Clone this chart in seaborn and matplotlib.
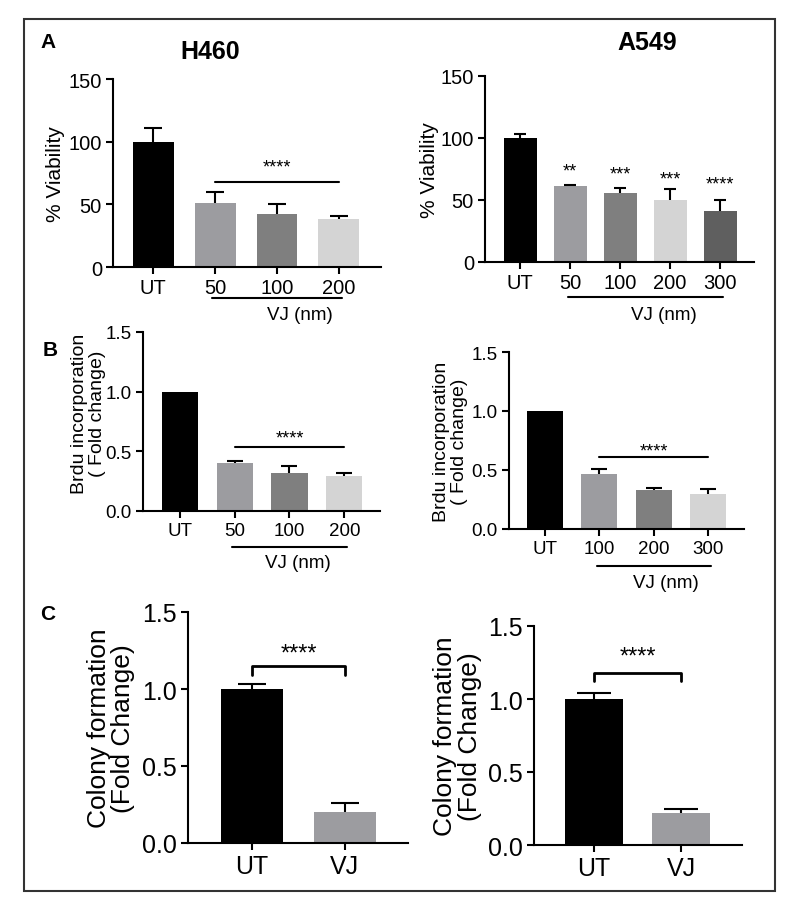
import seaborn as sns
import matplotlib.pyplot as plt
from matplotlib.patches import Rectangle

# Panel A - viability
h460_via_labels = ["UT", "50", "100", "200"]
h460_via_mean = [100, 51, 42, 38]
h460_via_err = [11, 9, 8, 3]

a549_via_labels = ["UT", "50", "100", "200", "300"]
a549_via_mean = [100, 61, 56, 50, 41]
a549_via_err = [3, 1.5, 4, 9, 9]
a549_via_stars = ["", "**", "***", "***", "****"]
a549_via_star_y = [0, 73, 71, 67, 63]

# Panel B - Brdu incorporation
h460_brdu_labels = ["UT", "50", "100", "200"]
h460_brdu_mean = [1.0, 0.40, 0.32, 0.29]
h460_brdu_err = [0, 0.02, 0.06, 0.03]

a549_brdu_labels = ["UT", "100", "200", "300"]
a549_brdu_mean = [1.0, 0.47, 0.33, 0.30]
a549_brdu_err = [0, 0.04, 0.015, 0.04]

# Panel C - colony formation
h460_col_labels = ["UT", "VJ"]
h460_col_mean = [1.0, 0.20]
h460_col_err = [0.03, 0.06]

a549_col_labels = ["UT", "VJ"]
a549_col_mean = [1.0, 0.22]
a549_col_err = [0.04, 0.025]

grey = {"UT": "#000000", "50": "#9c9ca0", "100": "#7f7f7f",
        "200": "#d4d4d4", "300": "#5f5f5f", "VJ": "#9c9ca0"}
brdu_right = {"UT": "#000000", "100": "#9c9ca0", "200": "#7f7f7f", "300": "#d4d4d4"}

sns.set_theme(style="ticks")
plt.rcParams['font.family'] = ['Liberation Sans', 'DejaVu Sans']
plt.rcParams['text.color'] = 'black'
plt.rcParams['axes.labelcolor'] = 'black'

W, H = 788, 912
fig = plt.figure(figsize=(W / 100, H / 100), dpi=100)


def px_axes(x0, y0, x1, y1):
    return fig.add_axes([x0 / W, 1 - y1 / H, (x1 - x0) / W, (y1 - y0) / H])


def bars(ax, labels, mean, err, pal, cap, fs, ylim, yticks, fmt, xlim):
    sns.barplot(x=labels, y=mean, hue=labels, palette=pal, legend=False,
                ax=ax, width=0.66, errorbar=None, linewidth=0, saturation=1)
    idx = [i for i, e in enumerate(err) if e > 0]
    _, caps, _ = ax.errorbar(idx, [mean[i] for i in idx],
                             yerr=[[0] * len(idx), [err[i] for i in idx]], fmt='none',
                             ecolor='black', elinewidth=1.5, capsize=cap, capthick=1.5)
    caps[0].set_visible(False)
    ax.set_ylim(*ylim)
    ax.set_xlim(*xlim)
    ax.set_yticks(yticks)
    ax.set_yticklabels([fmt.format(v) for v in yticks])
    sns.despine(ax=ax)
    for s in ["left", "bottom"]:
        ax.spines[s].set_linewidth(1.5)
        ax.spines[s].set_color("black")
    ax.tick_params(width=1.5, length=5, labelsize=fs, colors="black", pad=3)


def ylab(ax, text, x, fs, y=0.5):
    ax.set_ylabel(text, fontsize=fs, linespacing=1.05)
    ax.yaxis.set_label_coords(x, y)
    ax.yaxis.label.set_va("center")


def underline(ax, x0, x1, y, tx, ty, fs=13.5):
    tr = ax.get_xaxis_transform()
    ax.plot([x0 - 0.05, x1 + 0.05], [y, y], transform=tr, clip_on=False, color="black", lw=1.5)
    ax.text(tx, ty, "VJ (nm)", transform=tr, ha="center", va="center", fontsize=fs)


def sigline(ax, x0, x1, y, sy, fs=13):
    ax.plot([x0, x1], [y, y], color="black", lw=1.5)
    ax.text((x0 + x1) / 2, sy, "****", ha="center", va="center", fontsize=fs)


def bracket(ax, x0, x1, y, tip, sy, fs=17):
    ax.plot([x0, x0, x1, x1], [tip, y, y, tip], color="black", lw=2)
    ax.text((x0 + x1) / 2, sy, "****", ha="center", va="center", fontsize=fs)


# A left
ax = px_axes(113, 80, 381, 268)
bars(ax, h460_via_labels, h460_via_mean, h460_via_err, grey, 6.8, 14.5,
     (0, 150), [0, 50, 100, 150], "{:g}", (-0.65, 3.68))
ylab(ax, "% Viability", -0.215, 15)
sigline(ax, 1, 3, 68, 80)
underline(ax, 1, 3, -0.165, 2.37, -0.25)

# A right
ax = px_axes(485, 77, 754, 263)
bars(ax, a549_via_labels, a549_via_mean, a549_via_err, grey, 4.3, 14.5,
     (0, 150), [0, 50, 100, 150], "{:g}", (-0.7, 4.68))
ylab(ax, "% Viability", -0.205, 15)
for i, (s, y) in enumerate(zip(a549_via_stars, a549_via_star_y)):
    if s:
        ax.text(i, y, s, ha="center", va="center", fontsize=13)
underline(ax, 1, 4, -0.188, 2.88, -0.28)

# B left
ax = px_axes(143, 333, 380, 512)
bars(ax, h460_brdu_labels, h460_brdu_mean, h460_brdu_err, grey, 6, 13.5,
     (0, 1.5), [0, 0.5, 1.0, 1.5], "{:.1f}", (-0.67, 3.65))
ylab(ax, "Brdu incorporation\n( Fold change)", -0.23, 14, 0.55)
sigline(ax, 1, 3, 0.54, 0.61)
underline(ax, 1, 3, -0.20, 2.15, -0.285)

# B right
ax = px_axes(509, 353, 744, 530)
bars(ax, a549_brdu_labels, a549_brdu_mean, a549_brdu_err, brdu_right, 6, 13.5,
     (0, 1.5), [0, 0.5, 1.0, 1.5], "{:.1f}", (-0.66, 3.66))
ylab(ax, "Brdu incorporation\n( Fold change)", -0.25, 14)
sigline(ax, 1, 3, 0.61, 0.66)
underline(ax, 1, 3, -0.21, 2.22, -0.30)

# C left
ax = px_axes(188, 613, 408, 844)
bars(ax, h460_col_labels, h460_col_mean, h460_col_err, grey, 10, 18,
     (0, 1.5), [0, 0.5, 1.0, 1.5], "{:.1f}", (-0.69, 1.68))
ylab(ax, "Colony formation\n(Fold Change)", -0.35, 19)
bracket(ax, 0, 1, 1.15, 1.09, 1.23)

# C right
ax = px_axes(534, 627, 742, 846)
bars(ax, a549_col_labels, a549_col_mean, a549_col_err, grey, 12, 18,
     (0, 1.5), [0, 0.5, 1.0, 1.5], "{:.1f}", (-0.69, 1.7))
ylab(ax, "Colony formation\n(Fold Change)", -0.37, 19)
bracket(ax, 0, 1, 1.18, 1.12, 1.29)

# titles and panel letters
fig.text(210 / W, 1 - 52 / H, "H460", ha="center", va="center", fontsize=18, fontweight="bold")
fig.text(647 / W, 1 - 43 / H, "A549", ha="center", va="center", fontsize=18, fontweight="bold")
fig.text(48 / W, 1 - 43 / H, "A", ha="center", va="center", fontsize=15, fontweight="bold")
fig.text(50 / W, 1 - 350 / H, "B", ha="center", va="center", fontsize=15, fontweight="bold")
fig.text(48 / W, 1 - 615 / H, "C", ha="center", va="center", fontsize=15, fontweight="bold")

# outer frame
fig.add_artist(Rectangle((24 / W, 1 - 892 / H), (775 - 24) / W, (892 - 20) / H,
                         transform=fig.transFigure, fill=False, lw=1.5, ec="#333333"))

fig.savefig("out.png", dpi=100)
